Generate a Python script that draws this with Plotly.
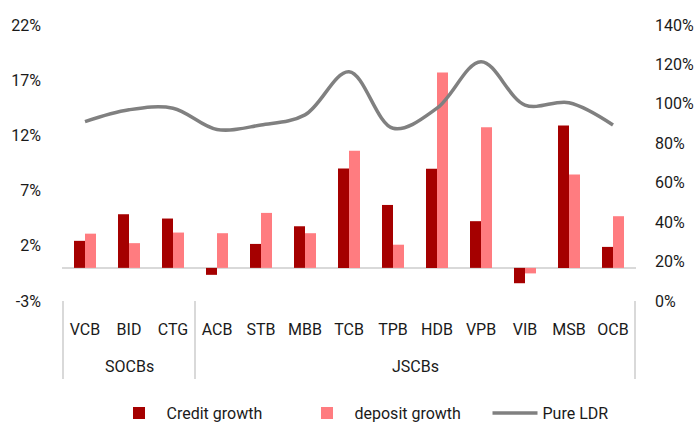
import plotly.graph_objects as go

groups = ["SOCBs"] * 3 + ["JSCBs"] * 10
banks = ["VCB", "BID", "CTG", "ACB", "STB", "MBB", "TCB", "TPB", "HDB", "VPB", "VIB", "MSB", "OCB"]
credit_growth = [2.45, 4.86, 4.47, -0.63, 2.17, 3.77, 9.0, 5.7, 8.97, 4.23, -1.39, 12.9, 1.9]
deposit_growth = [3.1, 2.24, 3.2, 3.14, 4.98, 3.14, 10.6, 2.1, 17.7, 12.74, -0.5, 8.45, 4.68]
pure_ldr = [91, 97, 97.8, 87, 89.3, 94.4, 116.3, 87.6, 97.8, 121.4, 99.4, 100.6, 89.3]

left_ticks = [-3, 2, 7, 12, 17, 22]
right_ticks = [0, 20, 40, 60, 80, 100, 120, 140]

FONT = "Roboto, Liberation Sans, sans-serif"

fig = go.Figure()
fig.add_trace(go.Bar(x=banks, y=credit_growth, name="Credit growth", marker_color="#A50000",
                     marker_line_width=0))
fig.add_trace(go.Bar(x=banks, y=deposit_growth, name="deposit growth", marker_color="#FF7C80",
                     marker_line_width=0))
fig.add_trace(go.Scatter(x=banks, y=pure_ldr, name="Pure LDR", mode="lines", yaxis="y2",
                         line=dict(color="#808080", width=3.5, shape="spline", smoothing=1.0)))

# group dividers and labels, placed via category indices
bounds = [-0.5]
names, centers = [], []
start = 0
for i in range(1, len(groups) + 1):
    if i == len(groups) or groups[i] != groups[start]:
        bounds.append(i - 0.5)
        names.append(groups[start])
        centers.append((start + i - 1) / 2)
        start = i
for b in bounds:
    fig.add_shape(type="line", xref="x", yref="paper", x0=b, x1=b, y0=0, y1=-0.283,
                  line=dict(color="#d9d9d9", width=2))
for n, c in zip(names, centers):
    fig.add_annotation(x=c, xref="x", y=-0.239, yref="paper", text=n, showarrow=False,
                       yanchor="middle", font=dict(size=16))

fig.update_layout(
    width=697, height=422,
    margin=dict(l=62, r=61, t=25, b=121, autoexpand=False),
    paper_bgcolor="white", plot_bgcolor="white",
    font=dict(family=FONT, size=16, color="#1a1a1a"),
    barmode="group", bargap=0.5, bargroupgap=0,
    showlegend=True,
    legend=dict(orientation="h", x=0.5 + 45 / 697, xanchor="center", xref="container",
                y=(422 - 413) / 422, yanchor="middle", yref="container",
                font=dict(size=16), traceorder="normal", itemwidth=45,
                entrywidth=128, entrywidthmode="pixels"),
    xaxis=dict(type="category", showgrid=False, showline=False, ticks="",
               tickfont=dict(size=16), ticklabelstandoff=17, automargin=False),
    yaxis=dict(range=[-3, 22], tickvals=left_ticks,
               ticktext=[f"{v}%" for v in left_ticks], showgrid=False,
               zeroline=True, zerolinecolor="#d9d9d9", zerolinewidth=2,
               showline=False, ticks="", ticklabelstandoff=20, automargin=False),
    yaxis2=dict(range=[0, 140], tickvals=right_ticks,
                ticktext=[f"{v}%" for v in right_ticks], overlaying="y", side="right",
                showgrid=False, zeroline=False, showline=False, ticks="",
                tickfont=dict(size=16), ticklabelstandoff=18, automargin=False),
)

fig.write_html("out.html", config={"displayModeBar": False},
               post_script="document.body.style.margin='0';document.body.style.overflow='hidden';")
